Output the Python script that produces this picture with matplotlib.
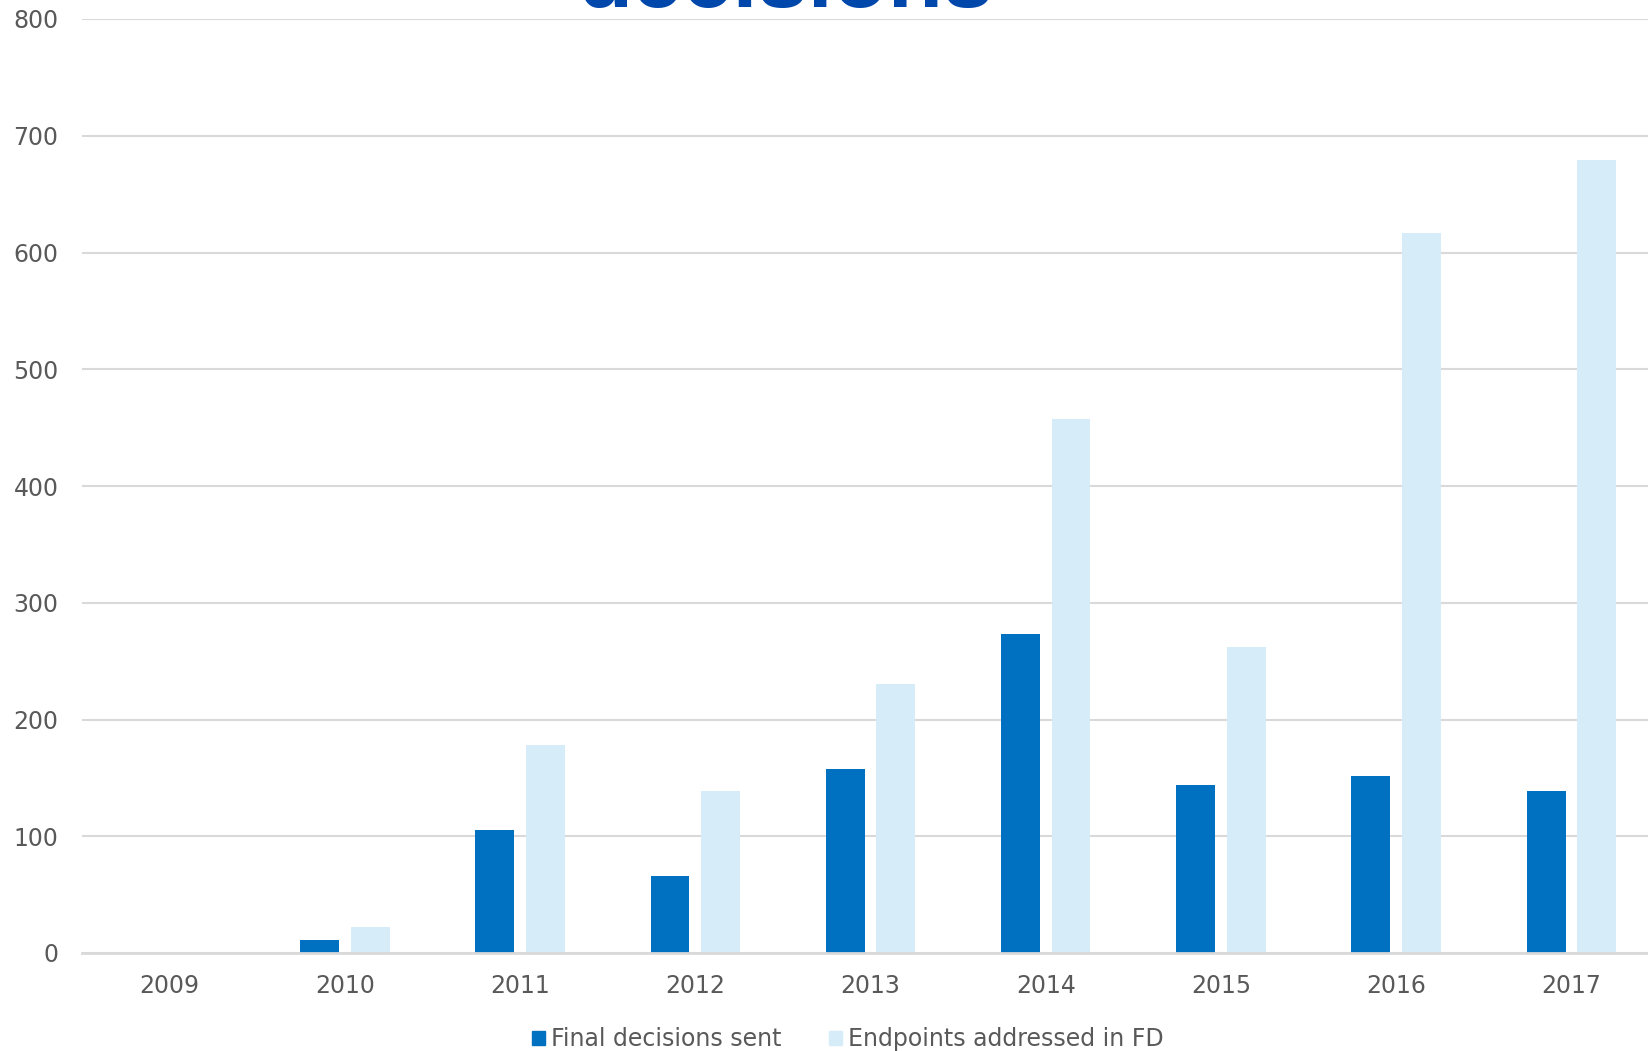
import matplotlib
matplotlib.use("Agg")
import matplotlib.pyplot as plt
import numpy as np
from matplotlib.patches import Patch

years = ["2009", "2010", "2011", "2012", "2013", "2014", "2015", "2016", "2017"]
final_decisions = [0, 11, 105, 66, 158, 273, 144, 152, 139]
endpoints_fd = [0, 22, 178, 139, 230, 457, 262, 617, 679]
yticks = [0, 100, 200, 300, 400, 500, 600, 700, 800]

dark = "#0070C0"
light = "#D6EDF9"
grey_txt = "#595959"
grid_c = "#D9D9D9"

W, H = 1648, 1051
fig = plt.figure(figsize=(W / 100, H / 100), dpi=100)
ax_left = 82 / W
ax_bottom = 1 - 953 / H
ax_top = 1 - 19 / H
ax = fig.add_axes([ax_left, ax_bottom, 1577 / W, ax_top - ax_bottom])

x = np.arange(len(years))
bw = 0.222
off = 0.144
ax.bar(x - off, final_decisions, bw, color=dark, zorder=3)
ax.bar(x + off, endpoints_fd, bw, color=light, zorder=3)

ax.set_xlim(-0.5, len(years) - 0.5)
ax.set_ylim(0, 800)
ax.set_yticks(yticks)
ax.set_yticklabels([str(v) for v in yticks])
ax.set_xticks(x)
ax.set_xticklabels(years)
ax.tick_params(axis="both", length=0, labelsize=17, colors=grey_txt)
ax.tick_params(axis="y", pad=17)
ax.tick_params(axis="x", pad=15)
ax.yaxis.grid(True, color=grid_c, linewidth=1.5, zorder=0)
ax.set_axisbelow(True)
for s in ["top", "right", "left"]:
    ax.spines[s].set_visible(False)
ax.spines["bottom"].set_color(grid_c)
ax.spines["bottom"].set_linewidth(2)
ax.spines["bottom"].set_zorder(4)

handles = [Patch(color=dark, label="Final decisions sent"),
           Patch(color=light, label="Endpoints addressed in FD")]
fig.legend(handles=handles, loc="center", bbox_to_anchor=(848 / W, 1 - 1039 / H),
           ncol=2, frameon=False, fontsize=17, labelcolor=grey_txt,
           handlelength=0.55, handleheight=0.55, handletextpad=0.25,
           columnspacing=2.0, borderpad=0)

fig.text(785 / W, 1 - 7 / H, "decisions", ha="center", va="baseline",
         fontsize=65, fontweight="bold", color="#0047AB",
         family="Liberation Sans")

fig.savefig("out.png", dpi=100, facecolor="white")
